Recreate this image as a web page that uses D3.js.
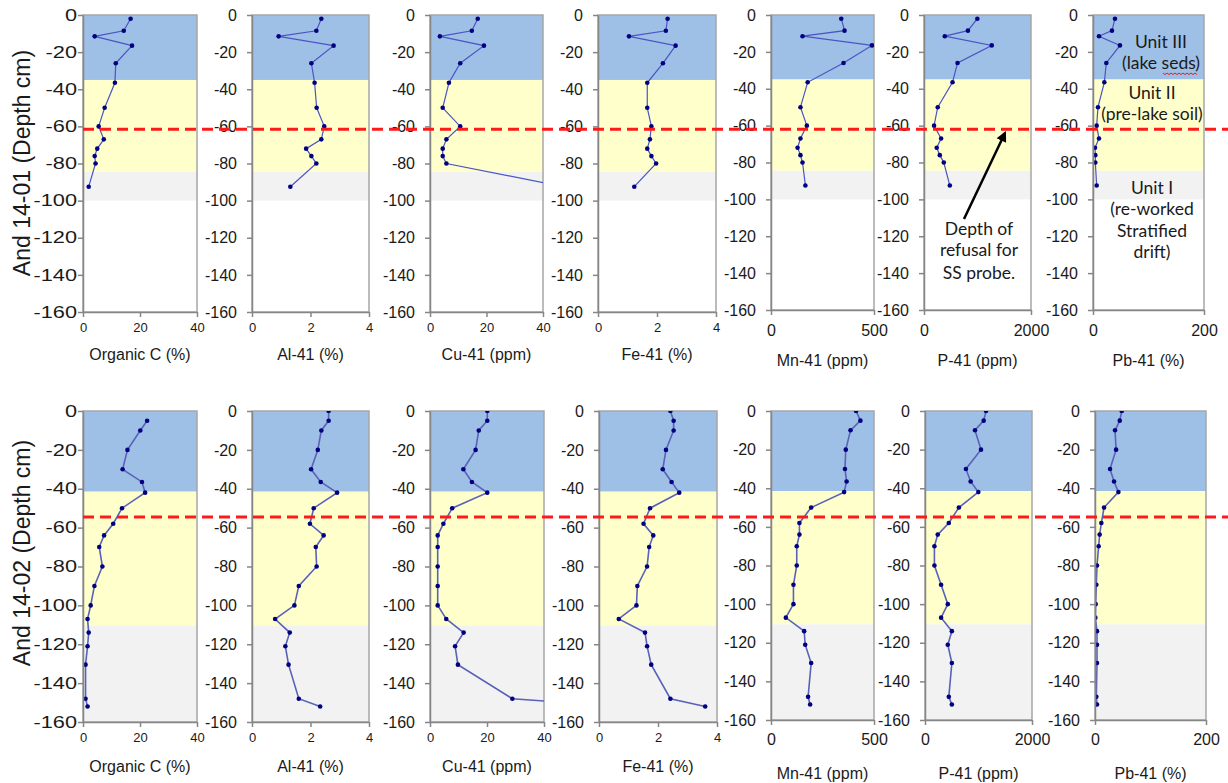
<!DOCTYPE html>
<html>
<head>
<meta charset="utf-8" />
<title>And 14-01 / 14-02 depth profiles</title>
<script src="https://cdn.jsdelivr.net/npm/d3@7"></script>
<style>
  body { margin: 0; background: #fff; }
  svg text { font-family: "Liberation Sans", Arial, sans-serif; fill: #1a1a1a; }
</style>
</head>
<body>
<script>
// ---- data ----
var elements = ["Organic C (%)", "Al-41 (%)", "Cu-41 (ppm)", "Fe-41 (%)", "Mn-41 (ppm)", "P-41 (ppm)", "Pb-41 (%)"];
var xMax = [40, 4, 40, 4, 500, 2000, 200];
var xTicks = [[0, 20, 40], [0, 2, 4], [0, 20, 40], [0, 2, 4], [0, 500], [0, 2000], [0, 200]];
var depthTicks = [0, -20, -40, -60, -80, -100, -120, -140, -160];

// core And 14-01
var depthTop = [-2, -8.5, -11.5, -16.5, -26, -36.5, -50, -60, -67, -72, -76, -80, -92.5];
var orgCTop = [16.7, 14.3, 4.1, 17.2, 11.5, 11.2, 7.6, 5.5, 7.3, 5.0, 4.1, 4.4, 2.0];
var alTop   = [2.37, 2.2, 0.91, 2.79, 2.03, 2.14, 2.21, 2.47, 2.37, 1.85, 2.03, 2.2, 1.31];
var cuTop   = [16.9, 14.8, 3.5, 19.1, 10.7, 6.7, 4.5, 10.7, 5.8, 4.5, 4.5, 5.8, 47.5];
var feTop   = [2.36, 2.3, 1.05, 2.63, 2.2, 1.67, 1.67, 1.81, 1.76, 1.67, 1.81, 1.97, 1.23];
var mnTop   = [341, 357, 153, 490, 352, 178, 143, 174, 143, 129, 143, 153, 167];
var pTop    = [997, 821, 389, 1266, 627, 533, 257, 188, 320, 238, 295, 370, 483];
var pbTop   = [39.6, 34.2, 10.8, 48.6, 24, 20.4, 9, 6.6, 10.8, 3.6, 4.2, 4.2, 6.6];
var unitsTop = [0, -35, -84.5, -100];      // unit III / II / I boundaries
var refusalTop = -61.5;

// core And 14-02
var depthBot = [0, -5, -10, -20, -30, -36.5, -42, -50, -58, -64, -70, -80, -90, -100, -107, -114, -121, -130.5, -148, -152];
var orgCBot = [null, 22.5, 20.1, 15.6, 13.9, 20.7, 21.8, 13.7, 10.6, 7.4, 5.7, 6.8, 4.0, 2.7, 1.6, 2.0, 1.6, 0.9, 0.9, 1.6];
var alBot   = [2.62, 2.62, 2.37, 2.25, 2.02, 2.35, 2.91, 2.11, 1.98, 2.45, 2.18, 2.21, 1.6, 1.45, 0.79, 1.29, 1.14, 1.25, 1.6, 2.33];
var cuBot   = [20.1, 20.1, 17.1, 16.0, 11.7, 14.7, 20.1, 7.8, 4.7, 2.7, 2.7, 2.7, 2.7, 2.7, 5.7, 11.8, 8.8, 9.8, 28.9, 65];
var feBot   = [2.42, 2.53, 2.53, 2.27, 2.16, 2.46, 2.72, 1.73, 1.51, 1.84, 1.70, 1.63, 1.30, 1.27, 0.67, 1.56, 1.63, 1.77, 2.42, 3.60];
var mnBot   = [413, 434, 386, 363, 359, 367, 355, 195, 138, 138, 125, 125, 109, 109, 72, 161, 166, 195, 180, 190];
var pBot    = [1141, 1097, 934, 1047, 765, 853, 997, 633, 445, 238, 176, 176, 301, 426, 301, 502, 426, 502, 445, 502];
var pbBot   = [48.2, 44.6, 36.1, 38.0, 27.1, 34.3, 42.2, 16.3, 11.4, 8.4, 6.6, 3.6, 2.4, 1.2, 0.6, 3.6, 3.6, 3.6, 2.4, 3.6];
var unitsBot = [0, -41.5, -110.5, -160];
var refusalBot = -54.5;

// ---- layout ----
var width = 1228, height = 783;
var bandColors = ["#9ebfe6", "#ffffcc", "#f2f2f2"];

var rows = [
  { name: "And 14-01 (Depth cm)", depth: depthTop, series: [orgCTop, alTop, cuTop, feTop, mnTop, pTop, pbTop],
    units: unitsTop, refusal: refusalTop, y0: 15, y1: [312, 312, 312, 312, 310, 310, 310],
    xl: [[83, 197], [252, 369], [430, 543], [598, 716], [771, 874], [924, 1031], [1093, 1204]],
    tickY: [323, 325], titleY: [360, 366], labelY: 163 },
  { name: "And 14-02 (Depth cm)", depth: depthBot, series: [orgCBot, alBot, cuBot, feBot, mnBot, pBot, pbBot],
    units: unitsBot, refusal: refusalBot, y0: 411, y1: [722, 722, 722, 722, 720, 720, 720],
    xl: [[83, 197], [252, 369], [430, 544], [599, 717], [771, 874], [925, 1032], [1095, 1206]],
    tickY: [733, 734], titleY: [772, 779], labelY: 553 }
];

var svg = d3.select("body").append("svg")
    .attr("width", width)
    .attr("height", height);

var defs = svg.append("defs");
defs.append("marker")
    .attr("id", "arrowHead")
    .attr("viewBox", "0 0 10 10")
    .attr("refX", 8).attr("refY", 5)
    .attr("markerWidth", 4.2).attr("markerHeight", 4.2)
    .attr("orient", "auto")
  .append("path")
    .attr("d", "M0,0 L10,5 L0,10 z")
    .attr("fill", "#000");

var plain = function(d) { return String(d); };

rows.forEach(function(row, r) {
  row.series.forEach(function(vals, i) {
    var groupB = i >= 4;
    var x = d3.scaleLinear().domain([0, xMax[i]]).range(row.xl[i]);
    var y = d3.scaleLinear().domain([0, -160]).range([row.y0, row.y1[i]]);
    var g = svg.append("g").attr("class", "panel");

    // unit bands
    var bands = d3.range(row.units.length - 1).map(function(k) {
      return { top: row.units[k], bot: row.units[k + 1], fill: bandColors[k] };
    });
    g.selectAll("rect.band").data(bands).enter().append("rect")
        .attr("class", "band")
        .attr("x", x(0))
        .attr("width", x(xMax[i]) - x(0))
        .attr("y", function(d) { return y(d.top); })
        .attr("height", function(d) { return y(d.bot) - y(d.top); })
        .attr("fill", function(d) { return d.fill; });

    // frame
    g.append("rect")
        .attr("x", x(0)).attr("y", y(0))
        .attr("width", x(xMax[i]) - x(0))
        .attr("height", y(-160) - y(0))
        .attr("fill", "none")
        .attr("stroke", "#a6a6a6")
        .attr("stroke-width", 1.5);

    // clipped profile line
    var clipId = "clip" + r + "_" + i;
    defs.append("clipPath").attr("id", clipId)
      .append("rect")
        .attr("x", x(0)).attr("y", y(0))
        .attr("width", x(xMax[i]) - x(0))
        .attr("height", y(-160) - y(0));

    var pts = vals.map(function(v, k) { return { v: v, d: row.depth[k] }; })
                  .filter(function(p) { return p.v != null; });
    var line = d3.line().x(function(p) { return x(p.v); }).y(function(p) { return y(p.d); });

    var plot = g.append("g").attr("clip-path", "url(#" + clipId + ")");
    plot.append("path")
        .datum(pts)
        .attr("d", line)
        .attr("fill", "none")
        .attr("stroke", r == 0 ? "#4a54c4" : "#5a62b8")
        .attr("stroke-width", r == 0 ? 1.2 : 1.6);
    plot.selectAll("circle").data(pts).enter().append("circle")
        .attr("cx", function(p) { return x(p.v); })
        .attr("cy", function(p) { return y(p.d); })
        .attr("r", 2.3)
        .attr("fill", "#000080");

    // y axis
    var ya = g.append("g")
        .attr("transform", "translate(" + x(0) + ",0)")
        .call(d3.axisLeft(y).tickValues(depthTicks).tickFormat(plain)
              .tickSize(5).tickSizeOuter(0).tickPadding(10));
    ya.selectAll("text").style("font-size", "16px").attr("fill", "#1a1a1a");
    if (i == 0) {
      ya.selectAll("text").attr("x", -6 / 1.36).attr("transform", "scale(1.36,1)");
    }

    // x axis
    var xa = g.append("g")
        .attr("transform", "translate(0," + y(-160) + ")")
        .call(d3.axisBottom(x).tickValues(xTicks[i]).tickFormat(plain)
              .tickSize(5).tickSizeOuter(0).tickPadding(0));
    xa.selectAll("text")
        .attr("y", row.tickY[groupB ? 1 : 0] - y(-160))
        .style("font-size", groupB ? "16px" : "13px");

    svg.selectAll("g.panel .domain, g.panel .tick line")
        .attr("stroke", "#868686")
        .attr("stroke-width", 1.5);

    // axis title
    svg.append("text")
        .attr("x", (x(0) + x(xMax[i])) / 2)
        .attr("y", row.titleY[groupB ? 1 : 0])
        .attr("text-anchor", "middle")
        .style("font-size", "16px")
        .text(elements[i]);
  });

  // core label
  svg.append("text")
      .attr("transform", "translate(30," + row.labelY + ") rotate(-90)")
      .attr("text-anchor", "middle")
      .style("font-size", "23px")
      .text(row.name);

  // depth of refusal line
  var yr = d3.scaleLinear().domain([0, -160]).range([row.y0, row.y1[0]]);
  svg.append("line")
      .attr("x1", 83).attr("x2", width)
      .attr("y1", yr(row.refusal)).attr("y2", yr(row.refusal))
      .attr("stroke", "#ff1a1a")
      .attr("stroke-width", 3)
      .attr("stroke-dasharray", "11,6");
});

// ---- annotations ----
var note = svg.append("g");

function lines(g, cx, ys, texts) {
  texts.forEach(function(t, k) {
    g.append("text")
        .attr("x", cx).attr("y", ys[k])
        .attr("text-anchor", "middle")
        .style("font-family", "Lato, 'Open Sans', sans-serif")
        .style("font-size", "17.5px")
        .text(t);
  });
}
lines(note, 1161, [48, 69], ["Unit III", "(lake seds)"]);
lines(note, 1152, [99, 120], ["Unit II", "(pre-lake soil)"]);
lines(note, 1152, [194, 215, 237, 258], ["Unit I", "(re-worked", "Stratified", "drift)"]);
lines(note, 979, [235, 256, 279], ["Depth of", "refusal for", "SS probe."]);

// spell-check squiggle under "seds"
var sq = d3.range(0, 36, 2).map(function(k) { return [1163 + k, 73 + (k % 4 == 0 ? 0 : 1.6)]; });
note.append("path")
    .attr("d", d3.line()(sq))
    .attr("fill", "none")
    .attr("stroke", "#e02020")
    .attr("stroke-width", 1);

// arrow to the refusal depth
note.append("line")
    .attr("x1", 964).attr("y1", 219)
    .attr("x2", 1005).attr("y2", 133)
    .attr("stroke", "#000")
    .attr("stroke-width", 2.5)
    .attr("marker-end", "url(#arrowHead)");
</script>
</body>
</html>
